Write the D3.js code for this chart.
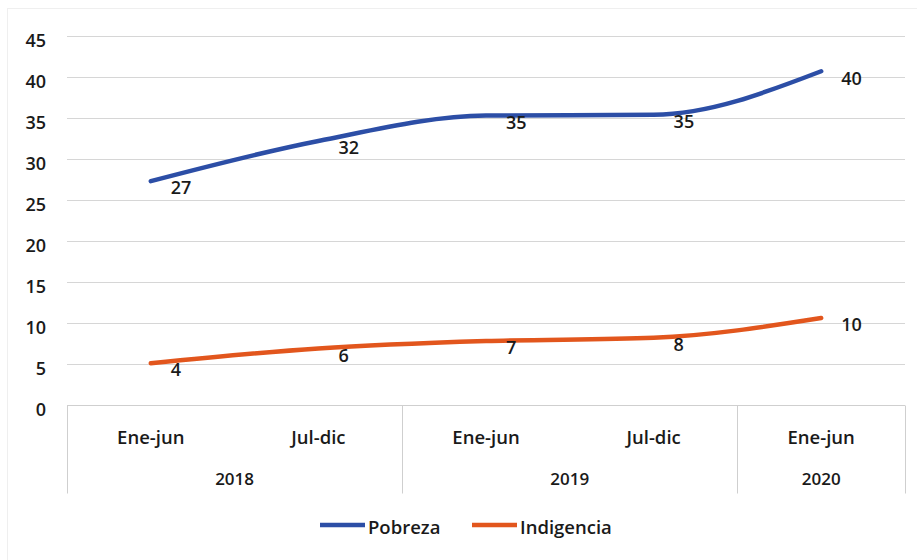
<!DOCTYPE html>
<html>
<head>
<meta charset="utf-8">
<script src="https://cdn.jsdelivr.net/npm/d3@7"></script>
<style>
body{margin:0;background:#fff;}
text{font-family:"Open Sans",sans-serif;font-weight:600;fill:#1a1a1a;}
</style>
</head>
<body>
<script>
var periods = ["Ene-jun","Jul-dic","Ene-jun","Jul-dic","Ene-jun"];
var years = [{"label":"2018","n":2},{"label":"2019","n":2},{"label":"2020","n":1}];
var pobreza = [27.3, 32.2, 35.3, 35.4, 40.7];
var indigencia = [5.1, 6.9, 7.8, 8.2, 10.6];
var pobrezaLabels = ["27","32","35","35","40"];
var indigenciaLabels = ["4","6","7","8","10"];
var yTicks = [0,5,10,15,20,25,30,35,40,45];

var w = 917, h = 560;
var margin = {left:67, right:12, top:36, bottom:155};

var svg = d3.select("body").append("svg")
  .attr("width", w).attr("height", h);

svg.append("rect")
  .attr("x",7.5).attr("y",8.5).attr("width",w).attr("height",h)
  .attr("fill","none").attr("stroke","#efefef");

var x = d3.scaleBand()
  .domain(d3.range(periods.length))
  .range([margin.left, w-margin.right]);
var y = d3.scaleLinear()
  .domain([0,45])
  .range([h-margin.bottom, margin.top]);

// grid
svg.append("g").selectAll("line")
  .data(yTicks.slice(1))
  .enter().append("line")
  .attr("x1", margin.left).attr("x2", w-margin.right)
  .attr("y1", function(d){return Math.round(y(d))+0.5})
  .attr("y2", function(d){return Math.round(y(d))+0.5})
  .attr("stroke","#d6d6d6");

// y tick labels
svg.append("g").selectAll("text")
  .data(yTicks)
  .enter().append("text")
  .attr("x", 46)
  .attr("y", function(d){return y(d)+5})
  .attr("dy","0.35em")
  .attr("text-anchor","end")
  .style("font-size","18px")
  .text(function(d){return d});

// x axis with grouped categories
var base = Math.round(y(0))+0.5;
svg.append("line")
  .attr("x1", margin.left).attr("x2", w-margin.right)
  .attr("y1", base).attr("y2", base)
  .attr("stroke","#cfcfcf");

var sepIdx = [0];
years.forEach(function(d){ sepIdx.push(sepIdx[sepIdx.length-1]+d.n); });
svg.append("g").selectAll("line")
  .data(sepIdx)
  .enter().append("line")
  .attr("x1", function(i){ return Math.round(margin.left + i*x.bandwidth())+0.5 })
  .attr("x2", function(i){ return Math.round(margin.left + i*x.bandwidth())+0.5 })
  .attr("y1", base).attr("y2", base+88)
  .attr("stroke","#cfcfcf");

svg.append("g").selectAll("text")
  .data(periods)
  .enter().append("text")
  .attr("x", function(d,i){return x(i)+x.bandwidth()/2})
  .attr("y", base+32)
  .attr("dy","0.35em")
  .attr("text-anchor","middle")
  .style("font-size","18.5px")
  .text(function(d){return d});

svg.append("g").selectAll("text")
  .data(years)
  .enter().append("text")
  .attr("x", function(d,i){ return margin.left + (sepIdx[i] + d.n/2)*x.bandwidth() })
  .attr("y", base+74)
  .attr("dy","0.35em")
  .attr("text-anchor","middle")
  .style("font-size","17px")
  .text(function(d){return d.label});

// lines
var line = d3.line()
  .x(function(d,i){return x(i)+x.bandwidth()/2})
  .y(function(d){return y(d)})
  .curve(d3.curveMonotoneX);

var series = [
  {name:"Pobreza", values:pobreza, labels:pobrezaLabels, color:"#2c4ea6"},
  {name:"Indigencia", values:indigencia, labels:indigenciaLabels, color:"#e2561d"}
];

series.forEach(function(s){
  svg.append("path")
    .datum(s.values)
    .attr("d", line)
    .attr("fill","none")
    .attr("stroke", s.color)
    .attr("stroke-width",4.5)
    .attr("stroke-linecap","round");
  svg.append("g").selectAll("text")
    .data(s.values)
    .enter().append("text")
    .attr("x", function(d,i){return x(i)+x.bandwidth()/2+20})
    .attr("y", function(d){return y(d)+7})
    .attr("dy","0.35em")
    .style("font-size","18px")
    .text(function(d,i){return s.labels[i]});
});

// legend
var legend = svg.append("g").attr("transform","translate(320,528)");
var lx = 0;
series.forEach(function(s){
  var g = legend.append("g").attr("transform","translate("+lx+",0)");
  g.append("line").attr("x1",0).attr("x2",45).attr("y1",-3).attr("y2",-3)
    .attr("stroke",s.color).attr("stroke-width",4.5);
  g.append("text").attr("x",48).attr("y",0).attr("dy","0.35em")
    .style("font-size","18.5px").text(s.name);
  lx += 152;
});
</script>
</body>
</html>
